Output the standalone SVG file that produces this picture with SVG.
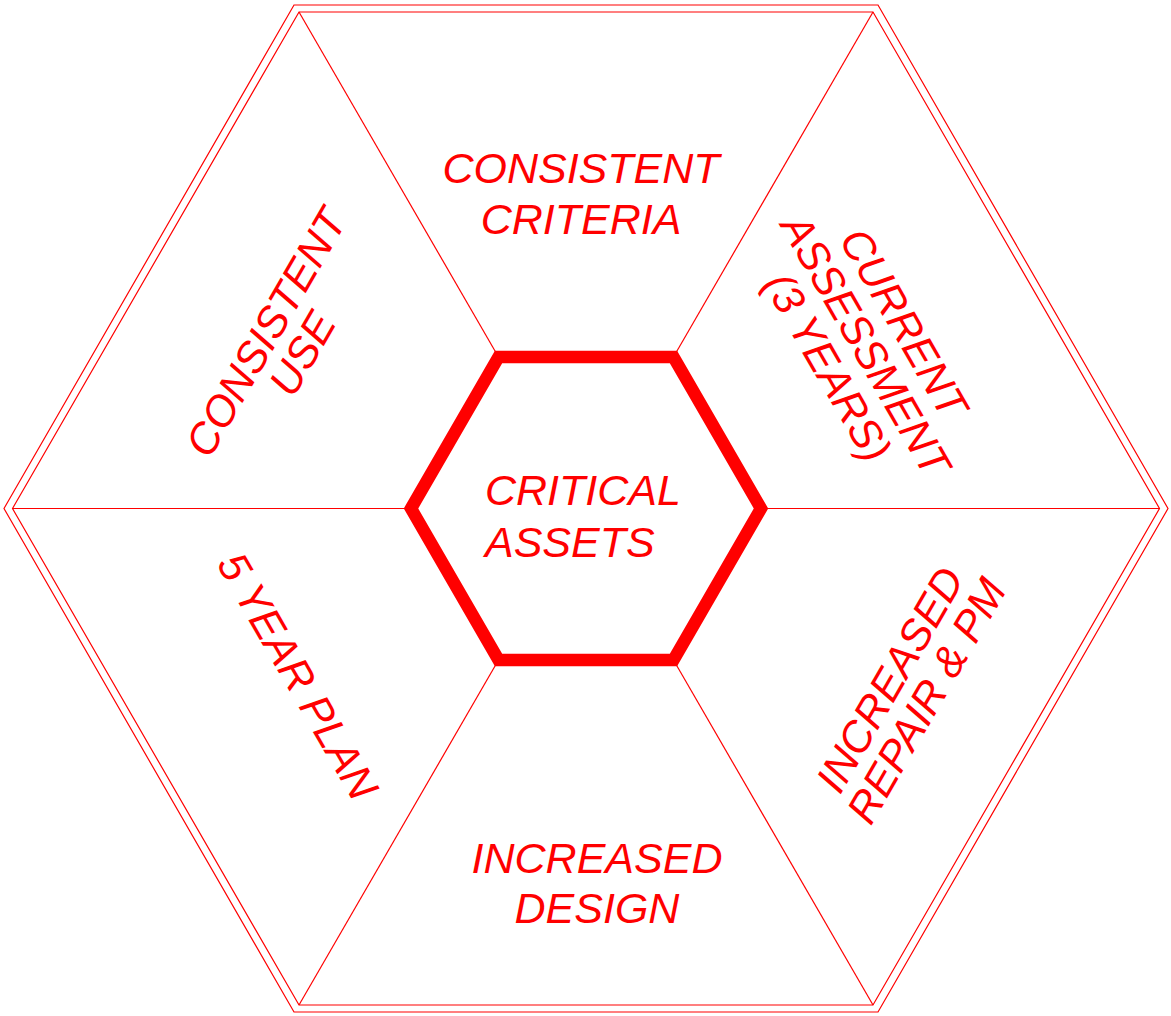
<svg xmlns="http://www.w3.org/2000/svg" width="1171" height="1016" viewBox="0 0 1171 1016">
<style>
.thin{fill:none;stroke:#ff0000;stroke-width:1.2}
.thick{fill:none;stroke:#ff0000;stroke-width:12.5;stroke-linejoin:miter}
.lbl{font-family:"Liberation Sans",Arial,sans-serif;font-style:italic;font-size:43px;fill:#ff0000}
.mid{text-anchor:middle}
</style>
<rect width="1171" height="1016" fill="#ffffff"/>
<g id="frame">
<polygon class="thin" points="4,508.5 294,5 878,5 1168,508.5 878,1012 294,1012"/>
<polygon class="thin" points="12.5,508.5 299,12 873,12 1159.5,508.5 873,1005 299,1005"/>
</g>
<g id="connectors">
<line class="thin" x1="411" y1="508.5" x2="12.5" y2="508.5"/>
<line class="thin" x1="498.5" y1="357" x2="299" y2="12"/>
<line class="thin" x1="673.5" y1="357" x2="873" y2="12"/>
<line class="thin" x1="761" y1="508.5" x2="1159.5" y2="508.5"/>
<line class="thin" x1="673.5" y1="660" x2="873" y2="1005"/>
<line class="thin" x1="498.5" y1="660" x2="299" y2="1005"/>
</g>
<g id="critical-assets">
<polygon class="thick" points="411,508.5 498.5,357 673.5,357 761,508.5 673.5,660 498.5,660"/>
<text class="lbl" x="485" y="505">CRITICAL</text>
<text class="lbl" x="485" y="557">ASSETS</text>
</g>
<g id="consistent-criteria">
<text class="lbl mid" x="581" y="183">CONSISTENT</text>
<text class="lbl mid" x="581" y="234">CRITERIA</text>
</g>
<g id="current-assessment" transform="translate(866,345) rotate(60)">
<text class="lbl mid" x="0" y="-29">CURRENT</text>
<text class="lbl mid" x="0" y="15">ASSESSMENT</text>
<text class="lbl mid" x="0" y="59">(3 YEARS)</text>
</g>
<g id="increased-repair" transform="translate(908,690) rotate(-60)">
<text class="lbl mid" x="0" y="-6">INCREASED</text>
<text class="lbl mid" x="0" y="36">REPAIR &amp; PM</text>
</g>
<g id="increased-design">
<text class="lbl mid" x="597" y="873">INCREASED</text>
<text class="lbl mid" x="597" y="923">DESIGN</text>
</g>
<g id="five-year-plan" transform="translate(298,676) rotate(60)">
<text class="lbl mid" x="0" y="15">5 YEAR PLAN</text>
</g>
<g id="consistent-use" transform="translate(284,343) rotate(-60)">
<text class="lbl mid" x="0" y="-6">CONSISTENT</text>
<text class="lbl mid" x="0" y="36">USE</text>
</g>
</svg>
